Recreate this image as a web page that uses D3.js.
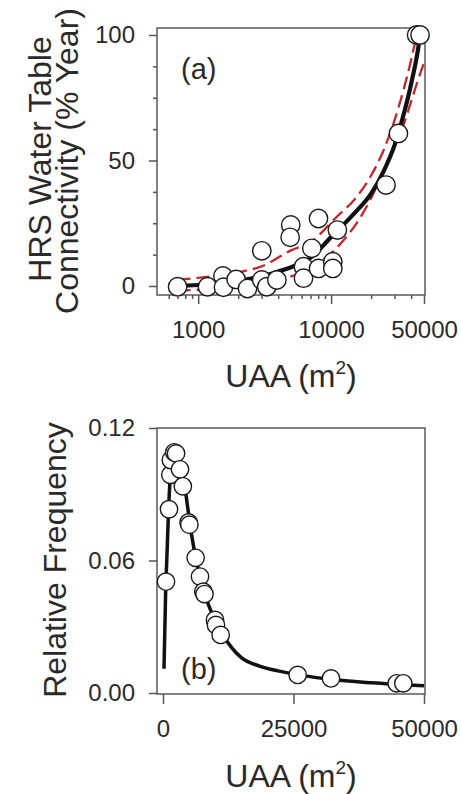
<!DOCTYPE html>
<html><head><meta charset="utf-8">
<script src="https://cdn.jsdelivr.net/npm/d3@7"></script>
<style>
html,body{margin:0;padding:0;background:#fff;}
svg text{font-family:"Liberation Sans",Arial,sans-serif;fill:#2a2a2a;}
</style></head>
<body><svg id="c" width="461" height="794"></svg>
<script>
// ---------- Panel (a) data ----------
const aPointsX = [700, 1175, 1535, 1550, 1930, 2350, 3010, 3010, 3280, 3910, 4970, 4920, 6200, 6200, 7160, 8040, 8040, 10300, 10300, 11150, 25900, 32100, 44000, 46700];
const aPointsY = [-0.3, -0.3, 4.0, -0.5, 2.6, -1.0, 2.4, 14.0, -0.3, 2.4, 24.3, 19.4, 7.7, 3.1, 15.0, 26.9, 7.0, 9.7, 7.0, 22.3, 40.2, 60.8, 100, 100];
const aFitX = [650, 1000, 2000, 3000, 4000, 5000, 7000, 10000, 15000, 20000, 25000, 30000, 35000, 40000, 45000, 46800];
const aFitY = [0, 0.4, 2, 3.8, 5.8, 7.5, 11.2, 19.5, 29, 36.8, 46, 56, 68, 80.5, 94, 100];
const aUpperX = [700, 1000, 2000, 3000, 5000, 7000, 11000, 15000, 20000, 25000, 30000, 35000, 40000, 44000];
const aUpperY = [2.5, 3.2, 5.5, 7.8, 14.2, 17.5, 27.5, 34.5, 44, 54.5, 66, 78, 90, 100];
const aLowerX = [700, 1000, 2000, 3000, 4000, 5000, 6000, 8000, 10000, 13000, 16000, 20000, 25000, 30000, 35000, 40000, 45000, 50000];
const aLowerY = [-1.8, -1.5, -0.5, 0.8, 2.2, 3.8, 5.3, 9, 13, 19.5, 26, 35, 46.5, 56, 64, 73.5, 82, 89];
const aXMajor = [1000, 10000, 50000];
const aXMinor = [600, 700, 800, 900, 2000, 3000, 4000, 5000, 6000, 7000, 8000, 9000, 20000, 30000, 40000];
const aYMajor = [0, 50, 100];
const aYMinor = [12.5, 25, 37.5, 62.5, 75, 87.5];

// ---------- Panel (b) data ----------
const bPointsX = [575, 1150, 1400, 1500, 2150, 2500, 3260, 3800, 4900, 5050, 6250, 7090, 7730, 7950, 9960, 10150, 11050, 25800, 32180, 44770, 46040];
const bPointsY = [0.0504, 0.0832, 0.0988, 0.1055, 0.1090, 0.1085, 0.1013, 0.0936, 0.0772, 0.0762, 0.0612, 0.0527, 0.0459, 0.0448, 0.0331, 0.0308, 0.0263, 0.0082, 0.0066, 0.0044, 0.0044];
const bFitX = [190, 500, 800, 1100, 1400, 1800, 2300, 2800, 3300, 4200, 5200, 6200, 7500, 8700, 10000, 11300, 13000, 15000, 18500, 22000, 26000, 32000, 40000, 46000, 50000];
const bFitY = [0.011, 0.045, 0.065, 0.085, 0.098, 0.107, 0.110, 0.109, 0.104, 0.093, 0.076, 0.062, 0.049, 0.040, 0.033, 0.027, 0.021, 0.016, 0.0122, 0.0100, 0.0082, 0.0062, 0.0046, 0.0037, 0.0033];
const bXTicks = [0, 25000, 50000];
const bYTicks = [0, 0.06, 0.12];

const svg = d3.select("#c");
const L = 157, R = 425;
const FONT = '"Liberation Sans",Arial,sans-serif';

function frame(g, top, bottom){
  g.append("rect").attr("x", L).attr("y", top).attr("width", R - L).attr("height", bottom - top)
   .attr("fill", "none").attr("stroke", "#5a5a5a").attr("stroke-width", 1.5);
}
function styleAxis(sel){
  sel.select(".domain").remove();
  sel.selectAll("line").attr("stroke", "#555").attr("stroke-width", 1.5);
  sel.selectAll("text").attr("fill", "#2a2a2a").style("font-family", FONT);
}
function xTitle(g, y){
  const t = g.append("text").attr("x", 291).attr("y", y).attr("text-anchor", "middle").style("font-size", "32px");
  t.append("tspan").text("UAA (m");
  t.append("tspan").attr("dy", -13).style("font-size", "19px").text("2");
  t.append("tspan").attr("dy", 13).text(")");
}

// ================= Panel (a) =================
const aTop = 28, aBot = 295;
const xa = d3.scaleLog().domain([490, 50000]).range([L, 424]);
const ya = d3.scaleLinear().domain([0, 100]).range([286, 35]);
const ga = svg.append("g");
frame(ga, aTop, aBot);
const lineA = (xs, ys) => d3.line().curve(d3.curveMonotoneX)(xs.map((x, i) => [xa(x), ya(ys[i])]));
ga.append("path").attr("d", lineA(aUpperX, aUpperY)).attr("fill", "none").attr("stroke", "#c1272d").attr("stroke-width", 2.3).attr("stroke-dasharray", "13,6");
ga.append("path").attr("d", lineA(aLowerX, aLowerY)).attr("fill", "none").attr("stroke", "#c1272d").attr("stroke-width", 2.3).attr("stroke-dasharray", "13,6");
ga.append("path").attr("d", lineA(aFitX, aFitY)).attr("fill", "none").attr("stroke", "#111").attr("stroke-width", 4.2);
ga.selectAll("circle").data(aPointsX).join("circle")
  .attr("cx", d => xa(d)).attr("cy", (d, i) => ya(aPointsY[i])).attr("r", 9.2)
  .attr("fill", "#fff").attr("stroke", "#1a1a1a").attr("stroke-width", 1.4);

// axes (a)
ga.append("g").attr("transform", `translate(0,${aBot})`)
  .call(d3.axisBottom(xa).tickValues(aXMajor).tickFormat(d3.format("d")).tickSize(9).tickPadding(17))
  .call(styleAxis).selectAll("text").style("font-size", "24px");
ga.append("g").attr("transform", `translate(0,${aBot})`)
  .call(d3.axisBottom(xa).tickValues(aXMinor).tickFormat("").tickSize(4)).call(styleAxis);
ga.append("g").attr("transform", `translate(${L},0)`)
  .call(d3.axisLeft(ya).tickValues(aYMajor).tickFormat(d3.format("d")).tickSize(8).tickPadding(14))
  .call(styleAxis).selectAll("text").style("font-size", "24px");
ga.append("g").attr("transform", `translate(${L},0)`)
  .call(d3.axisLeft(ya).tickValues(aYMinor).tickFormat("").tickSize(4)).call(styleAxis);

ga.append("text").attr("x", 181).attr("y", 79).style("font-size", "29px").text("(a)");
ga.append("text").attr("transform", "translate(51,159) rotate(-90)").attr("text-anchor", "middle").style("font-size", "32px").text("HRS Water Table");
ga.append("text").attr("transform", "translate(78,161) rotate(-90)").attr("text-anchor", "middle").style("font-size", "32px").text("Connectivity (% Year)");
xTitle(ga, 387);

// ================= Panel (b) =================
const bTop = 428, bBot = 694;
const xb = d3.scaleLinear().domain([0, 50000]).range([163, 424]);
const yb = d3.scaleLinear().domain([0, 0.12]).range([693, 428]);
const gb = svg.append("g");
frame(gb, bTop, bBot);
gb.append("path").attr("d", d3.line().curve(d3.curveMonotoneX)(bFitX.map((x, i) => [xb(x), yb(bFitY[i])])))
  .attr("fill", "none").attr("stroke", "#111").attr("stroke-width", 3.5);
gb.selectAll("circle").data(bPointsX).join("circle")
  .attr("cx", d => xb(d)).attr("cy", (d, i) => yb(bPointsY[i])).attr("r", 8.7)
  .attr("fill", "#fff").attr("stroke", "#1a1a1a").attr("stroke-width", 1.4);

gb.append("g").attr("transform", `translate(0,${bBot})`)
  .call(d3.axisBottom(xb).tickValues(bXTicks).tickFormat(d3.format("d")).tickSize(10).tickPadding(16))
  .call(styleAxis).selectAll("text").style("font-size", "24px");
gb.append("g").attr("transform", `translate(${L},0)`)
  .call(d3.axisLeft(yb).tickValues(bYTicks).tickFormat(d3.format(".2f")).tickSize(8).tickPadding(14))
  .call(styleAxis).selectAll("text").style("font-size", "24px");

gb.append("text").attr("x", 181).attr("y", 679).style("font-size", "29px").text("(b)");
gb.append("text").attr("transform", "translate(66,560) rotate(-90)").attr("text-anchor", "middle").style("font-size", "32px").text("Relative Frequency");
xTitle(gb, 787);
</script></body></html>
